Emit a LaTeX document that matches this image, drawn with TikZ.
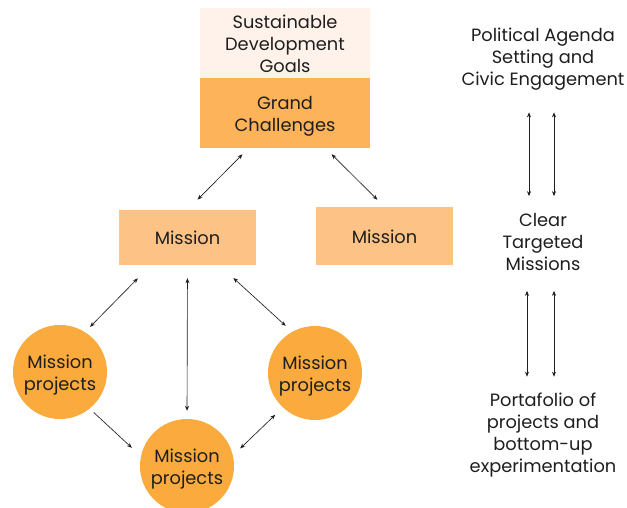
\documentclass[tikz,border=0pt]{standalone}
\usepackage{fontspec}
\setmainfont{Poppins}
\usetikzlibrary{arrows.meta}
\definecolor{sdg}{HTML}{FEF2EA}
\definecolor{gcol}{HTML}{FDB35A}
\definecolor{mcol}{HTML}{FDC386}
\definecolor{ccol}{HTML}{FBAB3D}
\definecolor{txt}{HTML}{1E1E1E}
\newcommand\lowtext[2][3pt]{\raisebox{-#1}[\height][\depth]{\begin{tabular}{@{}c@{}}#2\end{tabular}}}
\begin{document}
\begin{tikzpicture}[x=1pt,y=-1pt,
  every node/.style={text=txt,font=\fontsize{17.8}{22}\selectfont,align=center},
  boxA/.style={minimum width=170pt,minimum height=70pt,inner sep=0pt},
  mbox/.style={fill=mcol,minimum width=137pt,inner sep=0pt},
  proj/.style={circle,fill=ccol,minimum size=94pt,inner sep=0pt},
  lbl/.style={inner sep=0pt},
  arr/.style={draw=txt,line width=0.65pt,{Stealth[length=5pt,width=4pt]}-{Stealth[length=5pt,width=4pt]}},
  arr1/.style={draw=txt,line width=0.65pt,-{Stealth[length=5pt,width=4pt]}}]
\useasboundingbox (0,0) rectangle (627,508);
\node[boxA,fill=sdg] (sdg) at (285,43) {\lowtext{Sustainable\\Development\\Goals}};
\node[boxA,fill=gcol] (gc) at (285,113) {\lowtext{Grand\\Challenges}};
\node[mbox,minimum height=55pt] (m1) at (187.5,237.5) {\lowtext{Mission}};
\node[mbox,minimum height=58pt] (m2) at (384.5,236) {\lowtext{Mission}};
\node[proj] (c1) at (60,372) {\lowtext{Mission\\projects}};
\node[proj] (c2) at (315,373) {\lowtext{Mission\\projects}};
\node[proj] (c3) at (187,466) {\lowtext{Mission\\projects}};
\node[lbl] (t1) at (543,59) {Political Agenda\\Setting and\\Civic Engagement};
\node[lbl] (t2) at (543,242) {Clear\\Targeted\\Missions};
\node[lbl] (t3) at (543,435) {Portafolio of\\projects and\\bottom-up\\experimentation};
\draw[arr,shorten <=8.6pt,shorten >=14.3pt] (gc.224.2) -- (m1.north);
\draw[arr,shorten <=8.6pt,shorten >=10pt] (gc.319.5) -- (m2.north);
\draw[arr,shorten <=18.4pt,shorten >=7.2pt] (m1.217.8) -- (c1.58);
\draw[arr,shorten <=13pt,shorten >=8pt] (m1.south) -- (c3.north);
\draw[arr,shorten <=19pt,shorten >=8.7pt] (m1.319.8) -- (c2.119.6);
\draw[arr1,shorten <=5.5pt,shorten >=12.3pt] (c1.309.6) -- (c3.168.3);
\draw[arr,shorten <=10pt,shorten >=10.6pt] (c3.13.7) -- (c2.227.1);
\draw[arr,shorten <=22pt,shorten >=17pt] ([xshift=-14pt]t1.south) -- ([xshift=-14pt]t2.north);
\draw[arr,shorten <=22pt,shorten >=17pt] ([xshift=11pt]t1.south) -- ([xshift=11pt]t2.north);
\draw[arr,shorten <=20pt,shorten >=16pt] ([xshift=-16pt]t2.south) -- ([xshift=-16pt]t3.north);
\draw[arr,shorten <=20pt,shorten >=16pt] ([xshift=11pt]t2.south) -- ([xshift=11pt]t3.north);
\end{tikzpicture}
\end{document}
